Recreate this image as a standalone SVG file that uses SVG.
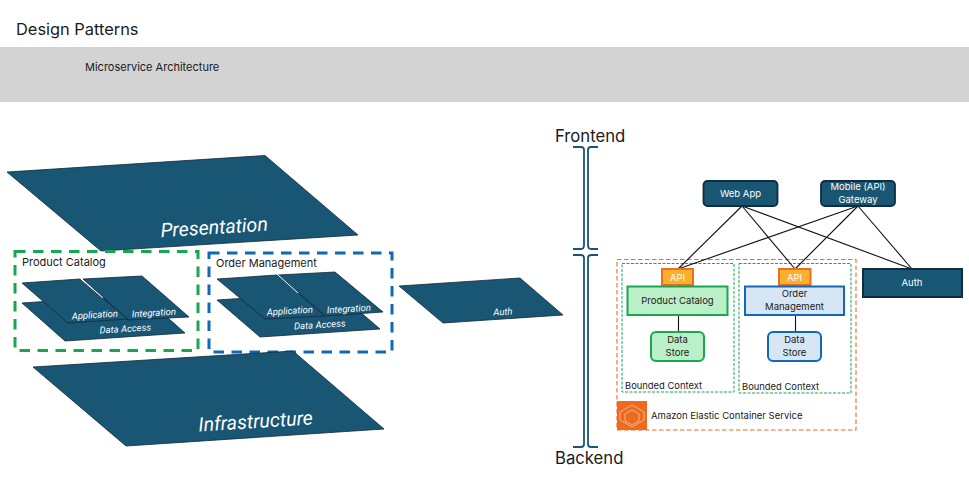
<svg xmlns="http://www.w3.org/2000/svg" width="969" height="496" viewBox="0 0 969 496">
<style>
text{font-family:"Inter","Liberation Sans",sans-serif;fill:#1a1a1a}
.plane{fill:#195673;stroke:#12283a;stroke-width:.8}
.pl{font-family:"Roboto","Liberation Sans",sans-serif;font-style:italic;fill:#fff;text-anchor:middle}
.dark{fill:#195673;stroke:#0e2d40;stroke-width:1.8}
.w{fill:#fff;font-size:9.5px;text-anchor:middle}
.b{font-size:9.5px;text-anchor:middle}
.g{fill:#bbefc7;stroke:#17a84f;stroke-width:2}
.u{fill:#d7e6f5;stroke:#0f69b4;stroke-width:2}
.api{fill:#fbb02d;stroke:#ee6c26;stroke-width:2}
.ctx{fill:none;stroke:#17a84f;stroke-width:1;stroke-dasharray:3 1.5}
.brace{fill:none;stroke:#195673;stroke-width:1.8}
.lbl{font-size:9.4px}
.big{font-size:16.7px}
line{stroke:#111;stroke-width:1.1}
</style>
<g id="title"><text x="16" y="35" font-size="16.400">Design Patterns</text></g>
<g id="band"><rect x="0" y="47" width="969" height="55" fill="#d3d3d3"/><text x="85" y="71" font-size="11">Microservice Architecture</text></g>

<g id="presentation"><polygon class="plane" points="7,172 265,155.5 358,235 101,251"/><text class="pl" font-size="19.600" transform="translate(214.500,234) rotate(-3.600)">Presentation</text></g>
<g id="product-catalog-group">
<rect x="15" y="251.500" width="183" height="99" fill="none" stroke="#17a84f" stroke-width="3" stroke-dasharray="10.500 7.500"/>
<text x="22" y="266" font-size="11">Product Catalog</text>
<polygon class="plane" points="22,303 142,295 185,333 65,341"/>
<polygon class="plane" points="83,279 142,276 189,317 128,320"/>
<polygon class="plane" points="22,283 80,279 128,319 68,323"/>
<line x1="81" y1="279" x2="103" y2="298" style="stroke:#fff;stroke-width:1"/>
<text class="pl" font-size="9.500" transform="translate(95,318) rotate(-3.500)">Application</text>
<text class="pl" font-size="9.500" transform="translate(154,316) rotate(-3.500)">Integration</text>
<text class="pl" font-size="9.500" transform="translate(125.500,332) rotate(-3.500)">Data Access</text>
</g>
<g id="order-management-group">
<rect x="209" y="253" width="183" height="99" fill="none" stroke="#0f69b4" stroke-width="3" stroke-dasharray="10.500 7.500"/>
<text x="216" y="267" font-size="11">Order Management</text>
<polygon class="plane" points="217,300 337,292 380,329 260,337"/>
<polygon class="plane" points="278,275 335,272 383,312 325,316"/>
<polygon class="plane" points="217,279 277,275 325,316 265,319"/>
<line x1="278" y1="275" x2="298" y2="293" style="stroke:#fff;stroke-width:1"/>
<text class="pl" font-size="9.500" transform="translate(290,314) rotate(-3.500)">Application</text>
<text class="pl" font-size="9.500" transform="translate(349,312) rotate(-3.500)">Integration</text>
<text class="pl" font-size="9.500" transform="translate(320,328) rotate(-3.500)">Data Access</text>
</g>
<g id="auth-plane"><polygon class="plane" points="399,286 520,278 563,315 443,323"/><text class="pl" font-size="9.500" transform="translate(503,315) rotate(-3.500)">Auth</text></g>
<g id="infrastructure"><polygon class="plane" points="33,367 293,351 384,429 126,446"/><text class="pl" font-size="19.600" transform="translate(256,428) rotate(-3.600)">Infrastructure</text></g>

<g id="frontend-label"><text class="big" x="555" y="142">Frontend</text></g>
<g id="backend-label"><text class="big" x="555" y="464">Backend</text></g>
<g id="frontend-brace"><path class="brace" d="M573,147H581Q584,147 584,150V245Q584,249 581,249H573M598,147H591Q588,147 588,150V245Q588,249 591,249H598"/></g>
<g id="backend-brace"><path class="brace" d="M573,255H581Q584,255 584,258V444Q584,447 581,447H573M598,255H591Q588,255 588,258V444Q588,447 591,447H598"/></g>

<g id="ecs-boundary"><rect x="617" y="259.500" width="239" height="170.500" fill="none" stroke="#ee6c26" stroke-width="1.100" stroke-dasharray="4.500 2.500"/></g>
<g id="ecs-icon"><rect x="617" y="401" width="30" height="29" fill="#ed6a1f"/>
<g fill="none" stroke="#f7c6a5" stroke-width=".8"><polygon points="632,405 644,412 644,420 632,427 620,420 620,412"/><polygon points="632,410 639,414 639,421 632,425 625,421 625,414"/></g></g>
<g id="ecs-label"><text x="651" y="419" font-size="9.500">Amazon Elastic Container Service</text></g>
<g id="bounded-context-1"><rect class="ctx" x="622" y="263.500" width="112" height="128.500"/><text class="lbl" x="625" y="389">Bounded Context</text></g>
<g id="bounded-context-2"><rect class="ctx" x="739" y="263.500" width="112" height="129.500"/><text class="lbl" x="742" y="390">Bounded Context</text></g>

<g id="connectors">
<line x1="742" y1="206" x2="678" y2="269"/><line x1="742" y1="206" x2="795" y2="269"/><line x1="742" y1="206" x2="912" y2="269"/>
<line x1="858" y1="206" x2="678" y2="269"/><line x1="858" y1="206" x2="795" y2="269"/><line x1="858" y1="206" x2="912" y2="269"/>
<line x1="678.500" y1="315" x2="678.500" y2="332"/><line x1="795.500" y1="315" x2="795.500" y2="332"/>
</g>

<g id="web-app"><rect class="dark" x="703.500" y="181" width="74" height="25" rx="4"/><text class="w" x="740.500" y="196.500">Web App</text></g>
<g id="mobile-gateway"><rect class="dark" x="821" y="181" width="74" height="25" rx="4"/><text class="w" x="858" y="190">Mobile (API)</text><text class="w" x="858" y="203">Gateway</text></g>
<g id="auth"><rect class="dark" x="863" y="269" width="99" height="28" style="stroke-width:2"/><text class="w" x="912" y="286">Auth</text></g>
<g id="api-1"><rect class="api" x="662" y="269" width="31" height="16"/><text class="w" x="677.500" y="281">API</text></g>
<g id="api-2"><rect class="api" x="779" y="269" width="31.500" height="16"/><text class="w" x="794.500" y="281">API</text></g>
<g id="product-catalog"><rect class="g" x="627.500" y="286.500" width="100" height="28.500"/><text class="b" x="677.500" y="303.500">Product Catalog</text></g>
<g id="order-management"><rect class="u" x="745" y="286.500" width="99" height="28.500"/><text class="b" x="794.500" y="297">Order</text><text class="b" x="794.500" y="310">Management</text></g>
<g id="data-store-1"><rect class="g" x="651" y="332" width="53" height="29" rx="5"/><text class="b" x="677.500" y="343">Data</text><text class="b" x="677.500" y="356">Store</text></g>
<g id="data-store-2"><rect class="u" x="768" y="332" width="53" height="29" rx="5"/><text class="b" x="794.500" y="343">Data</text><text class="b" x="794.500" y="356">Store</text></g>
</svg>
